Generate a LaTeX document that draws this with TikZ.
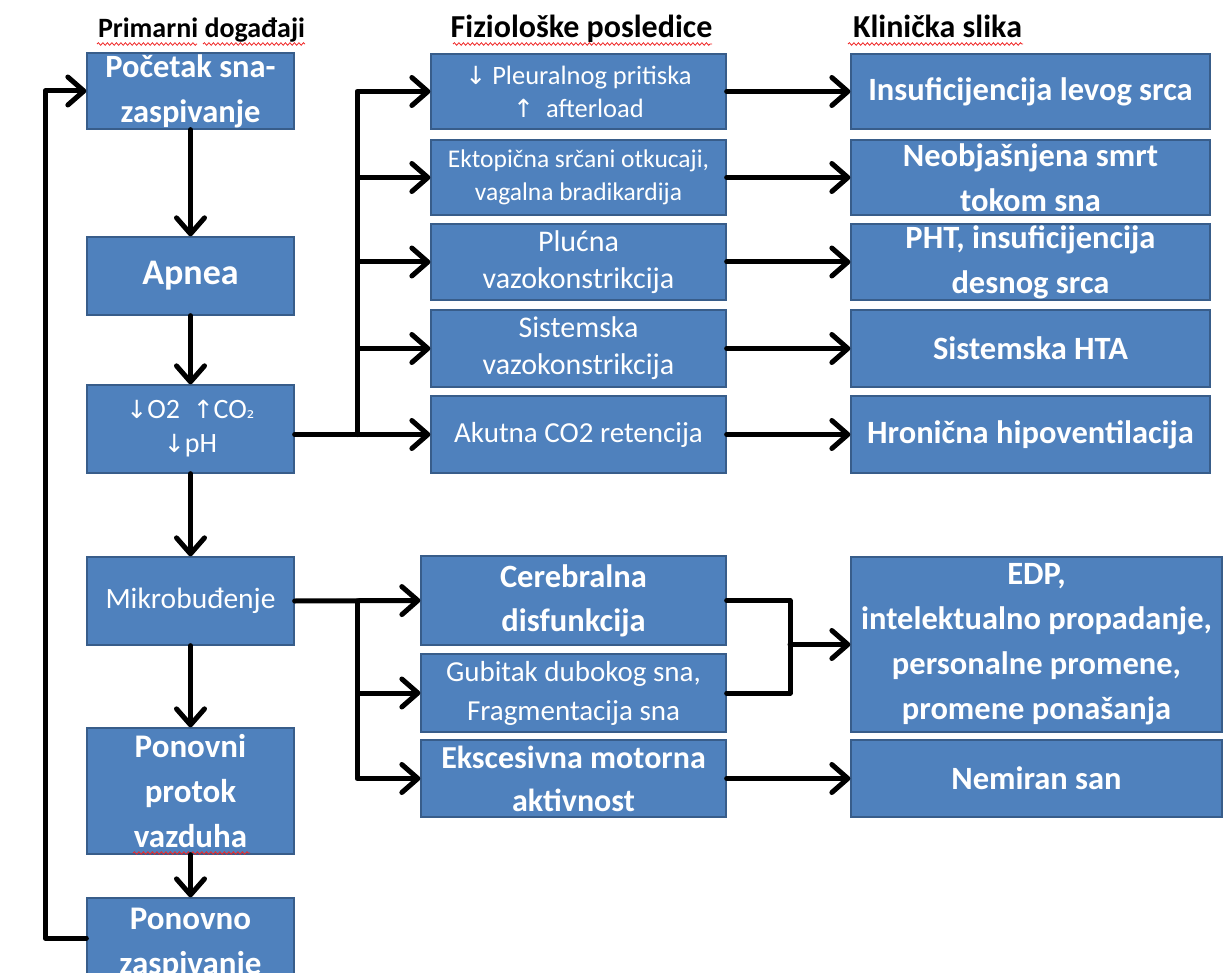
\documentclass[tikz,border=0pt]{standalone}
\usepackage{fontspec}
\setmainfont{Carlito}
\newfontfamily\arrowfont{DejaVu Sans}
\usetikzlibrary{arrows.meta,decorations.pathmorphing}
\definecolor{boxblue}{HTML}{4F81BD}
\definecolor{boxedge}{HTML}{385D8A}
\definecolor{squig}{HTML}{F02828}
\newcommand{\arrdn}{{\arrowfont\fontsize{25}{25}\selectfont ↓}}
\newcommand{\arrup}{{\arrowfont\fontsize{25}{25}\selectfont ↑}}
\newcommand{\subtwo}{{\arrowfont\fontsize{19}{19}\selectfont ₂}}
\begin{document}
\begin{tikzpicture}[x=1pt,y=-1pt,
  box/.style={rectangle,draw=boxedge,line width=1.3pt,fill=boxblue,text=white,align=center,inner sep=0pt},
  lcol/.style={box,minimum width=207pt},
  mcol/.style={box,minimum width=295pt},
  lmcol/.style={box,minimum width=305pt},
  rcol/.style={box,minimum width=359pt},
  rcolw/.style={box,minimum width=371pt},
  bbig/.style={font=\fontsize{32.5}{45}\selectfont\bfseries},
  hdr/.style={font=\fontsize{32}{34}\selectfont\bfseries,text=black,inner sep=0pt,anchor=base},
  conn/.style={line width=5pt,line join=round,line cap=round,black},
  arr/.style={conn,-{Straight Barb[length=16pt,width=28pt,line cap=round,line join=round]}},
  squiggle/.style={draw=squig,line width=0.8pt,decorate,decoration={snake,segment length=4.5pt,amplitude=1.3pt}}]
\useasboundingbox (0,0) rectangle (1223,973);

% headers
\node[hdr,font=\fontsize{28}{30}\selectfont\bfseries] (h1) at (201.5,38) {Primarni događaji};
\node[hdr] (h2) at (581.5,38) {Fiziološke posledice};
\node[hdr] (h3) at (937.5,38) {Klinička slika};
\draw[squiggle] (97,44) -- (197,44);
\draw[squiggle] (203,44) -- (305,44);
\draw[squiggle] (453,44) -- (712,44);
\draw[squiggle] (848,44) -- (1023,44);

% left column
\node[lcol,minimum height=76pt,bbig] (b1) at (190.5,91) {Početak sna-\\zaspivanje};
\node[lcol,minimum height=78pt,font=\fontsize{36}{45}\selectfont\bfseries] (b2) at (190.5,276) {Apnea};
\node[lcol,minimum height=88pt,font=\fontsize{28}{34}\selectfont] (b3) at (190.5,429) {\arrdn O2\ \ \arrup CO\subtwo\\\arrdn pH};
\node[lcol,minimum height=88pt,font=\fontsize{29.5}{40}\selectfont] (b4) at (190.5,601) {Mikrobuđenje};
\node[lcol,minimum height=126pt,font=\fontsize{33}{45}\selectfont\bfseries] (b5) at (190.5,791) {Ponovni\\protok\\vazduha};
\node[lcol,minimum height=92pt,font=\fontsize{33}{45}\selectfont\bfseries] (b6) at (190.5,944) {Ponovno\\zaspivanje};
\draw[squiggle] (133,853) -- (250,853);

% middle column
\node[mcol,minimum height=75pt,font=\fontsize{26.5}{33}\selectfont] (m1) at (578.5,91.5) {\arrdn\ Pleuralnog pritiska\\\arrup\ \ afterload};
\node[mcol,minimum height=75pt,font=\fontsize{25.5}{33}\selectfont] (m2) at (578.5,177.5) {Ektopična srčani otkucaji,\\vagalna bradikardija};
\node[mcol,minimum height=76pt,font=\fontsize{30}{37}\selectfont] (m3) at (578.5,262) {Plućna\\vazokonstrikcija};
\node[mcol,minimum height=77pt,font=\fontsize{30}{37}\selectfont] (m4) at (578.5,348.5) {Sistemska\\vazokonstrikcija};
\node[mcol,minimum height=77pt,font=\fontsize{29}{37}\selectfont] (m5) at (578.5,434.5) {Akutna CO2 retencija};

\node[lmcol,minimum height=89pt,font=\fontsize{32.5}{44}\selectfont\bfseries] (l1) at (573.5,600.5) {Cerebralna\\disfunkcija};
\node[lmcol,minimum height=78pt,font=\fontsize{29}{39}\selectfont] (l2) at (573.5,693) {Gubitak dubokog sna,\\Fragmentacija sna};
\node[lmcol,minimum height=77pt,font=\fontsize{32}{43}\selectfont\bfseries] (l3) at (573.5,778.5) {Ekscesivna motorna\\aktivnost};

% right column
\node[rcol,minimum height=75pt,bbig] (r1) at (1030.5,91.5) {Insuficijencija levog srca};
\node[rcol,minimum height=75pt,bbig] (r2) at (1030.5,177.5) {Neobjašnjena smrt\\tokom sna};
\node[rcol,minimum height=76pt,bbig] (r3) at (1030.5,262) {PHT, insuficijencija\\desnog srca};
\node[rcol,minimum height=77pt,bbig] (r4) at (1030.5,348.5) {Sistemska HTA};
\node[rcol,minimum height=77pt,bbig] (r5) at (1030.5,434.5) {Hronična hipoventilacija};
\node[rcolw,minimum height=175pt,bbig] (r6) at (1036.5,644.5) {EDP,\\intelektualno propadanje,\\personalne promene,\\promene ponašanja};
\node[rcolw,minimum height=77pt,bbig] (r7) at (1036.5,778.5) {Nemiran san};

% left column arrows
\draw[arr] (b1) -- (b2);
\draw[arr] (b2) -- (b3);
\draw[arr] (b3) -- (b4);
\draw[arr] (b4) -- (b5);
\draw[arr] (b5) -- (b6);

% feedback loop
\coordinate (lb) at (45,938);
\coordinate (lt) at (45,91);
\draw[arr] (b6.west |- lb) -- (lb) -- (lt) -- (b1.west);

% upper branching
\coordinate (ta) at (357,434.5);
\draw[arr] (b3.east |- m5.west) -- (m5.west);
\draw[arr] (ta) |- (m1.west);
\draw[arr] (ta) |- (m2.west);
\draw[arr] (ta) |- (m3.west);
\draw[arr] (ta) |- (m4.west);

% lower branching
\coordinate (tb) at (357,601);
\draw[arr] (b4.east) -- (l1.west);
\draw[arr] (tb) |- (l2.west);
\draw[arr] (tb) |- (l3.west);

% middle to right
\draw[arr] (m1) -- (r1);
\draw[arr] (m2) -- (r2);
\draw[arr] (m3) -- (r3);
\draw[arr] (m4) -- (r4);
\draw[arr] (m5) -- (r5);
\coordinate (mg) at (790,644.5);
\draw[conn] (l1.east) -| (mg);
\draw[conn] (l2.east) -| (mg);
\draw[arr] (mg) -- (r6.west);
\draw[arr] (l3) -- (r7);
\end{tikzpicture}
\end{document}
